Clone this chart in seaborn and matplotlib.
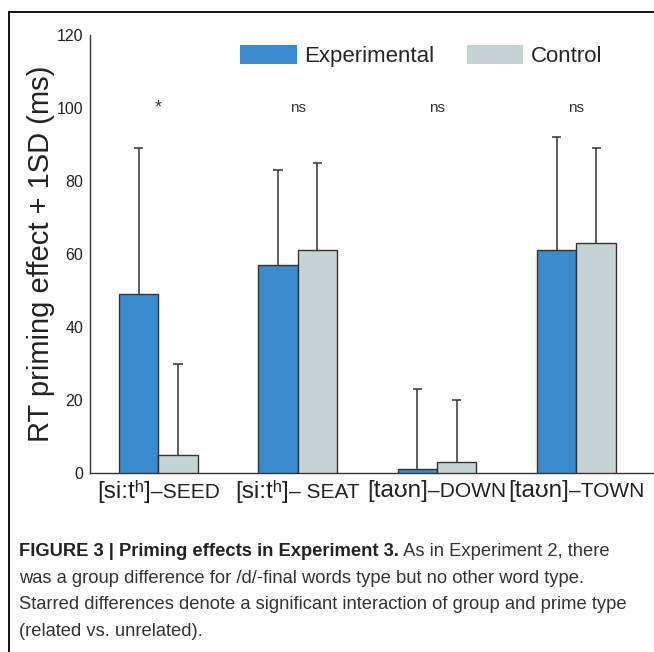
import matplotlib
matplotlib.use("Agg")
import matplotlib.pyplot as plt
from matplotlib.lines import Line2D
from matplotlib.patches import Patch
from matplotlib.offsetbox import TextArea, HPacker, AnnotationBbox
import seaborn as sns
import numpy as np
import pandas as pd

# ---- data ----
categories = ["[si:tʰ]–SEED", "[si:tʰ]–SEAT", "[taʊn]–DOWN", "[taʊn]–TOWN"]
label_ipa = ["[si:tʰ]", "[si:tʰ]", "[taʊn]", "[taʊn]"]
label_word = ["–SEED", "– SEAT", "–DOWN", "–TOWN"]
groups = ["Experimental", "Control"]
exp_means = [49, 57, 1, 61]
ctrl_means = [5, 61, 3, 63]
exp_sd = [40, 26, 22, 31]
ctrl_sd = [25, 24, 17, 26]
sig_labels = ["*", "ns", "ns", "ns"]
y_ticks = [0, 20, 40, 60, 80, 100, 120]

caption_bold = "FIGURE 3 | Priming effects in Experiment 3."
caption_lines = [
    " As in Experiment 2, there",
    "was a group difference for /d/-final words type but no other word type.",
    "Starred differences denote a significant interaction of group and prime type",
    "(related vs. unrelated).",
]

colors = {"Experimental": "#3a8bcc", "Control": "#c6d3d4"}

sns.set_style("white")
plt.rcParams["font.family"] = ["Liberation Sans", "DejaVu Sans"]

df = pd.DataFrame({
    "category": categories * 2,
    "group": [groups[0]] * 4 + [groups[1]] * 4,
    "value": exp_means + ctrl_means,
})
sds = {groups[0]: exp_sd, groups[1]: ctrl_sd}

fig = plt.figure(figsize=(6.54, 6.52), dpi=100)
W, H = 654, 652
ax = fig.add_axes([90 / W, 1 - 473 / H, 584 / W, (473 - 35) / H])

sns.barplot(data=df, x="category", y="value", hue="group", order=categories,
            hue_order=groups, palette=colors, saturation=1, width=0.565,
            errorbar=None, edgecolor="#333333", linewidth=1.0, ax=ax,
            legend=False, zorder=3)

# upward-only error bars (stem + top cap)
cap_half = 0.033
for cont, g in zip(ax.containers, groups):
    xs = np.array([p.get_x() + p.get_width() / 2 for p in cont.patches])
    hs = np.array([p.get_height() for p in cont.patches])
    tops = hs + np.array(sds[g])
    ax.vlines(xs, hs, tops, colors="#333333", linewidth=1.1, zorder=2)
    ax.hlines(tops, xs - cap_half, xs + cap_half, colors="#333333",
              linewidth=1.1, zorder=2)

# significance labels
for i, s in enumerate(sig_labels):
    ax.text(i, 100, s, ha="center", va="center",
            fontsize=13 if s == "*" else 11, color="#333333")

ax.set_xlim(-0.49, 3.7)
ax.set_ylim(0, 120)
ax.set_yticks(y_ticks)
ax.set_yticklabels([str(t) for t in y_ticks])
ax.tick_params(axis="y", direction="out", length=3, width=1, color="#333333",
               labelsize=11.5, labelcolor="#222222", pad=2)
ax.set_xticks(range(len(categories)))
ax.set_xticklabels([""] * len(categories))
ax.tick_params(axis="x", length=0)
ax.set_xlabel("")
ax.set_ylabel("RT priming effect + 1SD (ms)", fontsize=21, color="#222222")
ax.yaxis.set_label_coords(-0.06, 0.5)
for side in ["top", "right"]:
    ax.spines[side].set_visible(False)
for side in ["left", "bottom"]:
    ax.spines[side].set_color("#333333")
    ax.spines[side].set_linewidth(1.0)

# category labels: large IPA part + smaller word part
for i, (ipa, word) in enumerate(zip(label_ipa, label_word)):
    t1 = TextArea(ipa, textprops=dict(fontsize=17.5, color="#222222"))
    t2 = TextArea(word, textprops=dict(fontsize=15, color="#222222"))
    box = HPacker(children=[t1, t2], align="baseline", pad=0, sep=0)
    ab = AnnotationBbox(box, (i, 0), xycoords=("data", "axes fraction"),
                        xybox=(0, -5), boxcoords="offset points",
                        box_alignment=(0.5, 1), frameon=False, pad=0,
                        annotation_clip=False)
    ax.add_artist(ab)

# legend
handles = [Patch(facecolor=colors[g], edgecolor="none") for g in groups]
fig.legend(handles, groups, loc="upper left",
           bbox_to_anchor=(240 / W, 1 - 45 / H), bbox_transform=fig.transFigure,
           ncol=2, frameon=False, fontsize=16, handlelength=2.55,
           handleheight=0.95, handletextpad=0.35, columnspacing=1.45,
           borderpad=0, borderaxespad=0)

# frame lines (top and left)
fig.add_artist(Line2D([9 / W, 1.0], [1 - 12 / H, 1 - 12 / H],
                      transform=fig.transFigure, color="black", lw=1.3))
fig.add_artist(Line2D([9 / W, 9 / W], [0, 1 - 12 / H],
                      transform=fig.transFigure, color="black", lw=1.3))

# caption
cap_fs = 13.2
x0 = 19 / W
y_lines = [556, 583, 609, 636]
tb = fig.text(x0, 1 - y_lines[0] / H, caption_bold, fontsize=cap_fs,
              fontweight="bold", color="#222222", va="baseline", ha="left")
ax.annotate(caption_lines[0], xy=(1, 0), xycoords=tb, xytext=(0, 0),
            textcoords="offset points", fontsize=cap_fs, color="#333333",
            va="bottom", ha="left", annotation_clip=False)
for ln, yy in zip(caption_lines[1:], y_lines[1:]):
    fig.text(x0, 1 - yy / H, ln, fontsize=cap_fs, color="#333333",
             va="baseline", ha="left")

fig.savefig("out.png", dpi=100)
